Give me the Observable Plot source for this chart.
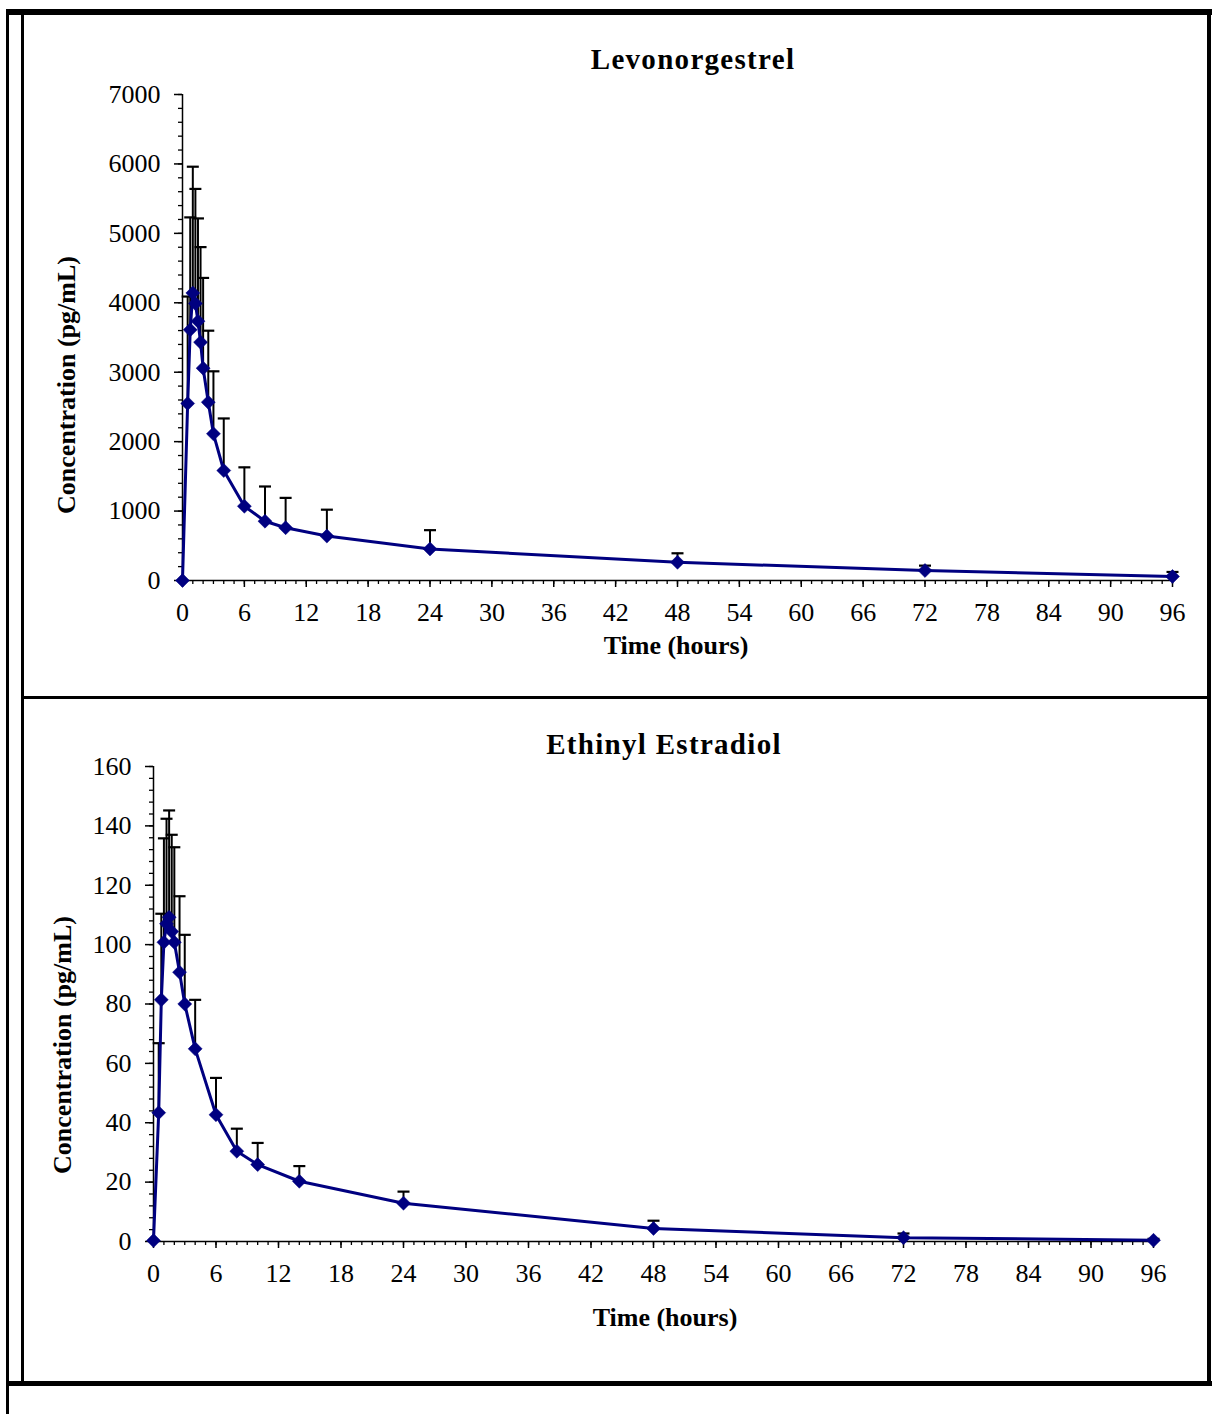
<!DOCTYPE html>
<html>
<head>
<meta charset="utf-8">
<script src="https://cdn.jsdelivr.net/npm/d3@7"></script>
<script src="https://cdn.jsdelivr.net/npm/@observablehq/plot@0.6"></script>
<style>
  html, body { margin: 0; padding: 0; background: #fff; }
  #page { position: relative; width: 1212px; height: 1414px; overflow: hidden; background: #fff; font-family: "Liberation Serif", "Times New Roman", serif; }
  .plot-wrap { position: absolute; left: 0; width: 1212px; }
  .line { position: absolute; background: #000; }
  .title { position: absolute; font-weight: bold; font-size: 29px; letter-spacing: 1.3px; white-space: nowrap; transform: translate(-50%, -50%); }
  .xlab { position: absolute; font-weight: bold; font-size: 26px; white-space: nowrap; transform: translate(-50%, -50%); }
  .ylab { position: absolute; font-weight: bold; font-size: 26px; white-space: nowrap; transform: translate(-50%, -50%) rotate(-90deg); }
</style>
</head>
<body>
<div id="page"></div>
<script>
// ---- data ----
const times = [0, 0.5, 0.75, 1, 1.25, 1.5, 1.75, 2, 2.5, 3, 4, 6, 8, 10, 14, 24, 48, 72, 96];

// Levonorgestrel mean and SD (pg/mL)
const lngMean = [0, 2550, 3610, 4140, 3990, 3735, 3432, 3058, 2568, 2113, 1584, 1070, 854, 760, 640, 455, 262, 144, 58];
const lngSD   = [0, 1540, 1620, 1820, 1650, 1480, 1370, 1300, 1030, 900, 750, 560, 500, 430, 380, 270, 130, 70, 65];

// Ethinyl Estradiol mean and SD (pg/mL)
const eeMean = [0.3, 43.4, 81.4, 100.8, 107, 109.2, 104.4, 100.8, 90.7, 80, 64.9, 42.7, 30.4, 25.9, 20.3, 12.9, 4.4, 1.3, 0.4];
const eeSD   = [0, 23.4, 29, 35, 35.4, 36, 32.6, 32, 25.6, 23.3, 16.5, 12.4, 7.6, 7.3, 5.1, 3.9, 2.6, 1.4, 0.5];

const xTicks = d3.range(0, 97, 6);
const lngTicks = d3.range(0, 7001, 1000);
const eeTicks = d3.range(0, 161, 20);

const titles = ["Levonorgestrel", "Ethinyl Estradiol"];
const xLabel = "Time (hours)";
const yLabel = "Concentration (pg/mL)";

// ---- helpers ----
const navy = "#000080";
const capSymbol = { draw(ctx) { ctx.moveTo(-6, 0); ctx.lineTo(6, 0); } };
const plainNum = d3.format("d");

function table(mean, sd) {
  return times.map((t, i) => ({ t, mean: mean[i], sd: sd[i] }));
}

function panel({ data, yMax, yMajor, yMinorStep, top, height, mt, mb, ml, mr }) {
  const bars = data.filter(d => d.sd > 0);
  const svg = Plot.plot({
    width: 1212,
    height,
    marginTop: mt, marginBottom: mb, marginLeft: ml, marginRight: mr,
    style: { fontFamily: "'Liberation Serif', 'Times New Roman', serif", fontSize: "26px", background: "transparent", overflow: "visible", color: "#000" },
    x: { domain: [0, 96] },
    y: { domain: [0, yMax] },
    marks: [
      Plot.axisY({ ticks: d3.range(0, yMax + 0.001, yMinorStep), tickSize: 4, tickFormat: () => "", label: null, strokeWidth: 1.3 }),
      Plot.axisY({ ticks: yMajor, tickSize: 8, tickPadding: 14, tickFormat: plainNum, label: null, strokeWidth: 1.5 }),
      Plot.axisX({ ticks: d3.range(0, 97, 1), tickSize: 4, tickFormat: () => "", label: null, strokeWidth: 1.3 }),
      Plot.axisX({ ticks: xTicks, tickSize: 7, tickPadding: 15, tickFormat: plainNum, label: null, strokeWidth: 1.5 }),
      Plot.ruleX([0], { stroke: "#000", strokeWidth: 1.5 }),
      Plot.ruleY([0], { stroke: "#000", strokeWidth: 1.5 }),
      Plot.ruleX(bars, { x: "t", y1: "mean", y2: d => d.mean + d.sd, stroke: "#000", strokeWidth: 2 }),
      Plot.dot(bars, { x: "t", y: d => d.mean + d.sd, symbol: capSymbol, r: 6, fill: "none", stroke: "#000", strokeWidth: 2.2 }),
      Plot.line(data, { x: "t", y: "mean", stroke: navy, strokeWidth: 3 }),
      Plot.dot(data, { x: "t", y: "mean", symbol: "diamond2", r: 6.3, fill: navy, stroke: navy, strokeWidth: 0.5 })
    ]
  });
  const wrap = document.createElement("div");
  wrap.className = "plot-wrap";
  wrap.style.top = top + "px";
  wrap.appendChild(svg);
  document.getElementById("page").appendChild(wrap);
}

panel({ data: table(lngMean, lngSD), yMax: 7000, yMajor: lngTicks, yMinorStep: 200,
        top: 0, height: 697, mt: 94, mb: 117, ml: 182, mr: 40 });
panel({ data: table(eeMean, eeSD), yMax: 160, yMajor: eeTicks, yMinorStep: 4,
        top: 697, height: 717, mt: 69, mb: 173, ml: 153, mr: 59 });

// ---- text and frame ----
const page = document.getElementById("page");
function addDiv(cls, text, x, y) {
  const d = document.createElement("div");
  d.className = cls;
  d.textContent = text;
  d.style.left = x + "px";
  d.style.top = y + "px";
  page.appendChild(d);
}
addDiv("title", titles[0], 693, 59);
addDiv("title", titles[1], 664, 744);
addDiv("xlab", xLabel, 676, 646);
addDiv("xlab", xLabel, 665, 1318);
addDiv("ylab", yLabel, 67, 385);
addDiv("ylab", yLabel, 63, 1045);

function addLine(x, y, w, h) {
  const d = document.createElement("div");
  d.className = "line";
  Object.assign(d.style, { left: x + "px", top: y + "px", width: w + "px", height: h + "px" });
  page.appendChild(d);
}
addLine(6, 9, 1206, 6);     // top thick line
addLine(6, 9, 3, 1405);     // outer left
addLine(21, 15, 3, 1369);   // inner left
addLine(1207, 9, 4, 1376);  // right
addLine(21, 696, 1190, 3);  // middle divider
addLine(6, 1381, 1206, 5);  // bottom thick line
</script>
</body>
</html>
